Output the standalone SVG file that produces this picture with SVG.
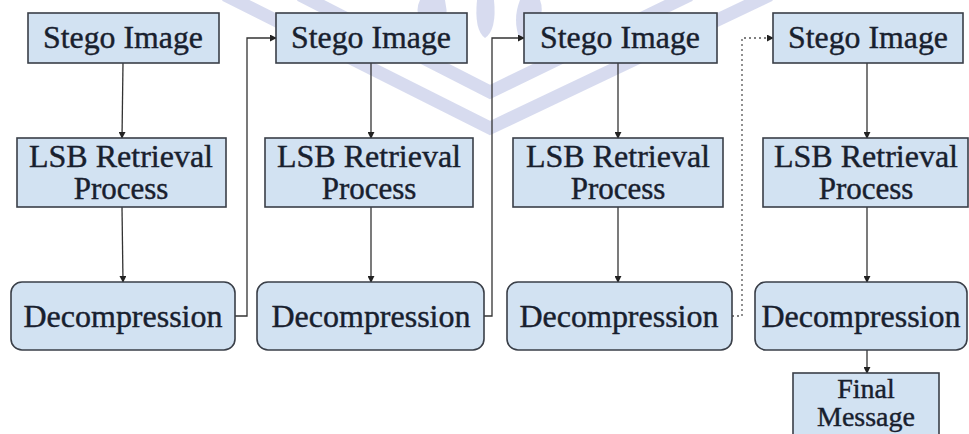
<svg xmlns="http://www.w3.org/2000/svg" width="969" height="434" viewBox="0 0 969 434">
<defs>
<style>
.box{fill:#d2e2f2;stroke:#3a3f48;stroke-width:1.6}
.t{font-size:31px;fill:#18202e;stroke:#18202e;stroke-width:0.4;text-anchor:middle}
.c{fill:none;stroke:#333;stroke-width:1.3}
.d{fill:none;stroke:#555;stroke-width:1.3;stroke-dasharray:2 3}
.wm{fill:none;stroke:#9aa6d8;stroke-width:13;opacity:0.4}
.wp{fill:#9aa6d8;opacity:0.4}
</style>
<marker id="ah" viewBox="0 0 8 8" refX="7" refY="4" markerWidth="7" markerHeight="7" orient="auto" markerUnits="userSpaceOnUse">
<path d="M0,0 L8,4 L0,8 z" fill="#222"/>
</marker>
</defs>
<rect width="969" height="434" fill="#fff"/>
<g id="watermark">
<polyline class="wm" points="225,-5 490,128 770,-5"/>
<polyline class="wm" points="300,-5 490,92 690,-5"/>
<path class="wp" d="M477,0 Q474,30 485,38 Q497,30 494,0 z"/>
<path class="wp" d="M420,0 Q410,20 440,40 Q450,20 445,0 z"/>
<path class="wp" d="M540,0 Q548,20 520,40 Q512,20 520,0 z"/>
</g>
<g id="connectors">
<line class="c" x1="123" y1="63" x2="122" y2="138" marker-end="url(#ah)"/>
<line class="c" x1="122" y1="207" x2="123" y2="282" marker-end="url(#ah)"/>
<line class="c" x1="371" y1="63" x2="371" y2="138" marker-end="url(#ah)"/>
<line class="c" x1="371" y1="207" x2="371" y2="282" marker-end="url(#ah)"/>
<line class="c" x1="618" y1="63" x2="618" y2="138" marker-end="url(#ah)"/>
<line class="c" x1="618" y1="207" x2="618" y2="282" marker-end="url(#ah)"/>
<line class="c" x1="867" y1="63" x2="867" y2="138" marker-end="url(#ah)"/>
<line class="c" x1="867" y1="207" x2="867" y2="282" marker-end="url(#ah)"/>
<line class="c" x1="867" y1="350" x2="867" y2="373" marker-end="url(#ah)"/>
<polyline class="c" points="235,316 247,316 247,38 276,38" marker-end="url(#ah)"/>
<polyline class="c" points="484,316 492,316 492,38 524,38" marker-end="url(#ah)"/>
<polyline class="d" points="732,316 742,316 742,38 773,38" marker-end="url(#ah)"/>
</g>
<g font-family="'Liberation Serif', 'Times New Roman', serif">
<g id="stego1"><rect class="box" x="28" y="13" width="191" height="50"/><text class="t" x="123" y="48" textLength="160" lengthAdjust="spacingAndGlyphs">Stego Image</text></g>
<g id="stego2"><rect class="box" x="276" y="13" width="191" height="50"/><text class="t" x="371" y="48" textLength="160" lengthAdjust="spacingAndGlyphs">Stego Image</text></g>
<g id="stego3"><rect class="box" x="524" y="13" width="193" height="50"/><text class="t" x="620" y="48" textLength="160" lengthAdjust="spacingAndGlyphs">Stego Image</text></g>
<g id="stego4"><rect class="box" x="773" y="13" width="190" height="50"/><text class="t" x="868" y="48" textLength="160" lengthAdjust="spacingAndGlyphs">Stego Image</text></g>
<g id="lsb1"><rect class="box" x="17" y="138" width="209" height="69"/><text class="t" x="121" y="167" textLength="184" lengthAdjust="spacingAndGlyphs">LSB Retrieval</text><text class="t" x="121" y="199">Process</text></g>
<g id="lsb2"><rect class="box" x="265" y="138" width="208" height="69"/><text class="t" x="369" y="167" textLength="184" lengthAdjust="spacingAndGlyphs">LSB Retrieval</text><text class="t" x="369" y="199">Process</text></g>
<g id="lsb3"><rect class="box" x="513" y="138" width="210" height="69"/><text class="t" x="618" y="167" textLength="184" lengthAdjust="spacingAndGlyphs">LSB Retrieval</text><text class="t" x="618" y="199">Process</text></g>
<g id="lsb4"><rect class="box" x="763" y="138" width="205" height="69"/><text class="t" x="866" y="167" textLength="184" lengthAdjust="spacingAndGlyphs">LSB Retrieval</text><text class="t" x="866" y="199">Process</text></g>
<g id="decomp1"><rect class="box" x="11" y="282" width="224" height="68" rx="11"/><text class="t" x="123" y="327" textLength="199" lengthAdjust="spacingAndGlyphs">Decompression</text></g>
<g id="decomp2"><rect class="box" x="257" y="282" width="227" height="68" rx="11"/><text class="t" x="371" y="327" textLength="199" lengthAdjust="spacingAndGlyphs">Decompression</text></g>
<g id="decomp3"><rect class="box" x="507" y="282" width="225" height="68" rx="11"/><text class="t" x="619" y="327" textLength="199" lengthAdjust="spacingAndGlyphs">Decompression</text></g>
<g id="decomp4"><rect class="box" x="755" y="282" width="212" height="68" rx="11"/><text class="t" x="861" y="327" textLength="199" lengthAdjust="spacingAndGlyphs">Decompression</text></g>
<g id="final"><rect class="box" x="793" y="373" width="146" height="70"/><text class="t" x="866" y="398" style="font-size:28px">Final</text><text class="t" x="866" y="426" style="font-size:28px">Message</text></g>
</g>
</svg>
